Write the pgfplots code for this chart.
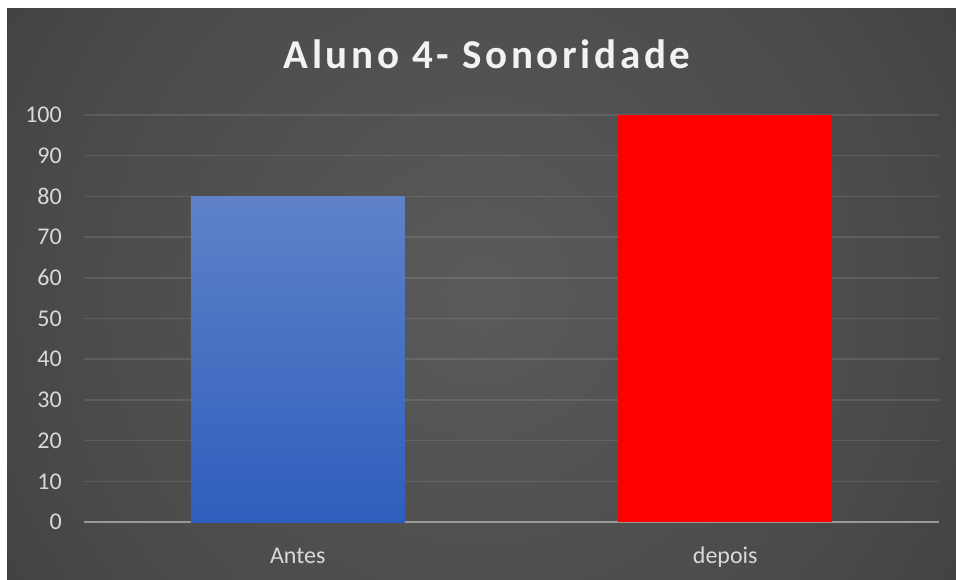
\documentclass[border=0pt]{standalone}
\usepackage{fontspec}
\setmainfont{Carlito}
\newfontfamily\titlefont[LetterSpace=9]{Carlito}
\usepackage{pgfplots}
\pgfplotsset{compat=1.18}
\definecolor{bga}{HTML}{5A5A5A}
\definecolor{bgb}{HTML}{4A4A4A}
\definecolor{bgc}{HTML}{3C3C3C}
\definecolor{bgd}{HTML}{2E2E2E}
\definecolor{bge}{HTML}{2A2A2A}
\definecolor{antestop}{HTML}{5F82C8}
\definecolor{antesbot}{HTML}{2E5EBD}
\definecolor{ticktext}{HTML}{D9D9D9}
\definecolor{titletext}{HTML}{F2F2F2}
\pgfdeclareradialshading{chartbg}{\pgfpoint{0bp}{0bp}}{color(0bp)=(bga); color(19bp)=(bgb); color(31bp)=(bgc); color(43bp)=(bgd); color(50bp)=(bge)}
\begin{document}
\begin{tikzpicture}
\fill[white] (0pt,0pt) rectangle (956pt,579pt);
\begin{scope}
\clip (7pt,0pt) rectangle (956pt,570pt);
\shade[shading=chartbg] (-69pt,-265pt) rectangle (1031pt,835pt);
\end{scope}
\node[anchor=base, text=titletext, inner sep=0pt] at (487pt,510pt)
  {\titlefont\bfseries\fontsize{41}{48}\selectfont Aluno 4- Sonoridade};
\begin{axis}[
  at={(84pt,57pt)}, anchor=south west,
  scale only axis, width=855pt, height=407pt,
  xmin=-0.5, xmax=1.5, ymin=0, ymax=100,
  xtick={0,1}, xticklabels={Antes,depois},
  ytick={0,10,...,100},
  axis line style={draw=none},
  major tick length=0pt,
  ymajorgrids,
  grid style={draw=white, draw opacity=0.1, line width=1.5pt},
  extra y ticks={0}, extra y tick labels={},
  extra y tick style={grid style={draw=white!60!black, draw opacity=1, line width=2pt}},
  /pgf/number format/assume math mode=true,
  yticklabel style={font=\fontsize{24}{28}\selectfont, text=ticktext, anchor=east, inner sep=0pt, xshift=-22pt},
  xticklabel style={font=\fontsize{24}{28}\selectfont, text=ticktext, anchor=base, inner sep=0pt, yshift=-41pt},
]
\addplot[ybar, bar width=0.5, bar shift=0pt, draw=none, top color=antestop, bottom color=antesbot] coordinates {(0,80)};
\addplot[ybar, bar width=0.5, bar shift=0pt, draw=none, fill=red] coordinates {(1,100)};
\end{axis}
\end{tikzpicture}
\end{document}
